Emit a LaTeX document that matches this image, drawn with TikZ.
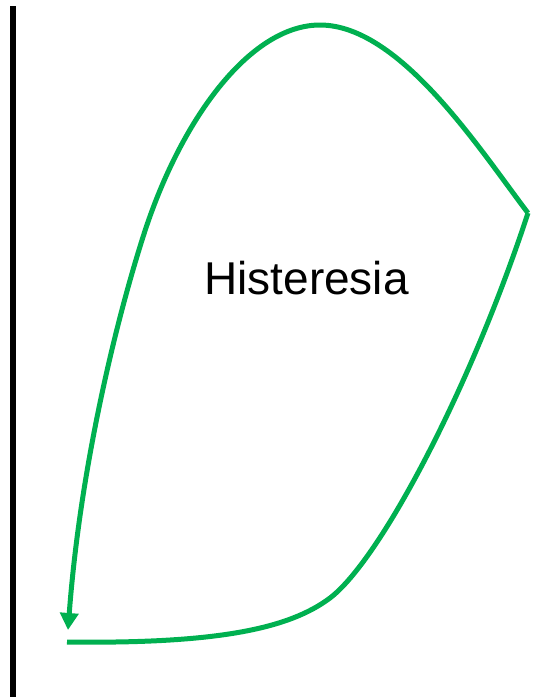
\documentclass[tikz,border=0pt]{standalone}
\usepackage{fontspec}
\setmainfont{Liberation Sans}
\usetikzlibrary{arrows.meta}
\definecolor{loopgreen}{HTML}{00B050}
\begin{document}
\begin{tikzpicture}[x=1pt,y=-1pt,
  loopline/.style={draw=loopgreen,line width=5pt,line join=miter},
  axisline/.style={draw=black,line width=6pt}]
\useasboundingbox (0,0) rectangle (544,697);
\draw[axisline] (13,6) -- (13,697);
\coordinate (start) at (67,642);
\coordinate (corner) at (528,213);
\coordinate (peak) at (320,25);
\coordinate (tip) at (68,630);
\draw[loopline] (start) .. controls (220,644) and (290,628) .. (330,598)
  .. controls (380,560) and (470,390) .. (corner);
\draw[loopline,-{Triangle[width=18pt,length=17pt]}] (corner)
  .. controls (480,150) and (400,25) .. (peak)
  .. controls (250,25) and (180,120) .. (143,237)
  .. controls (115,325) and (80,470) .. (tip);
\node[anchor=base,font=\fontsize{46}{50}\selectfont,inner sep=0pt] (label) at (306.5,294) {Histeresia};
\end{tikzpicture}
\end{document}
